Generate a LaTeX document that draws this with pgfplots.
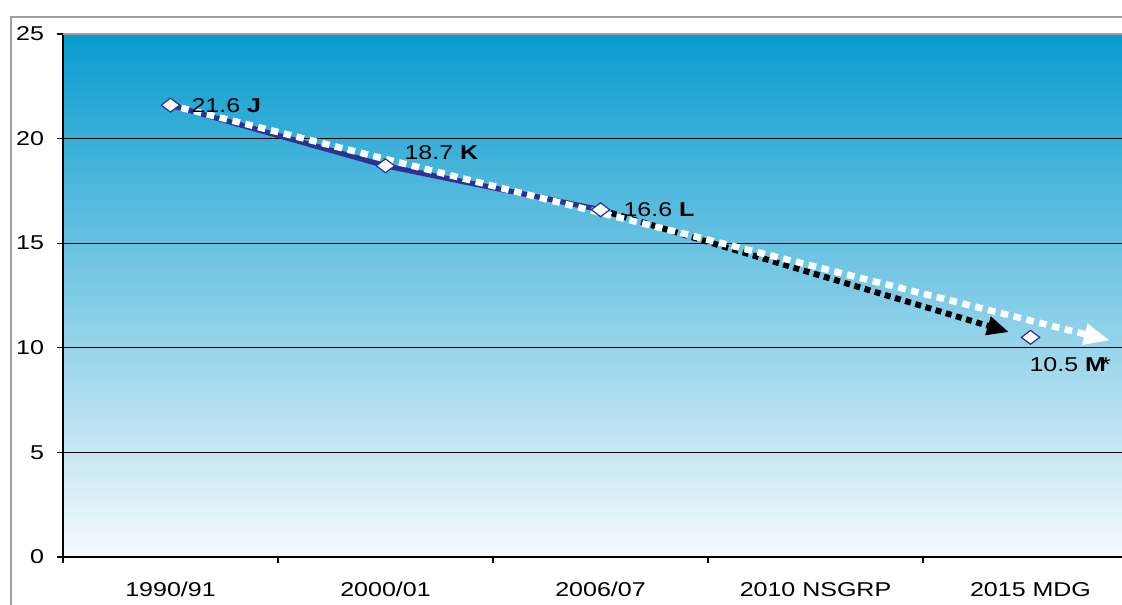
\documentclass[border=0pt]{standalone}
\usepackage{pgfplots}
\pgfplotsset{compat=1.18}
\usepackage{fontspec}
\setmainfont{Liberation Sans}[FakeStretch=1.25]
\usetikzlibrary{arrows.meta}
\definecolor{navy}{RGB}{46,49,146}
\definecolor{frameg}{RGB}{160,160,164}
\definecolor{skytop}{RGB}{8,156,207}
\definecolor{skymid}{RGB}{128,185,219}
\definecolor{skybot}{RGB}{247,250,253}

\begin{document}
\begin{tikzpicture}[font=\fontsize{10}{12}\selectfont]
\useasboundingbox (0,0) rectangle (561pt,302pt);
\clip (0,0) rectangle (561pt,302pt);
% outer chart frame
\draw[frameg, line width=1.3pt] (5.5pt,293.5pt) rectangle (620pt,-20pt);
\begin{axis}[
  at={(31.5pt,23.5pt)}, anchor=south west,
  scale only axis, width=537.5pt, height=261.5pt,
  xmin=-0.5, xmax=4.5, ymin=0, ymax=25,
  axis background/.style={shade, top color=skytop, middle color=skymid, bottom color=skybot},
  axis line style={draw=none},
  xtick={0,1,2,3,4},
  xticklabels={1990/91,2000/01,2006/07,2010 NSGRP,2015 MDG},
  minor xtick={-0.5,0.5,1.5,2.5,3.5,4.5},
  major x tick style={draw=none},
  xtick pos=bottom, ytick pos=left,
  tick align=outside,
  major tick length=3pt, minor tick length=3pt,
  tick style={black, line width=0.6pt},
  ytick={0,5,...,25},
  ymajorgrids, grid style={black, line width=0.6pt},
  yticklabel style={xshift=-3pt},
  xticklabel style={yshift=-6pt},
  /pgf/number format/assume math mode=true,
  clip=false,
]
% observed trend
\addplot[navy, line width=2.6pt, mark=none] coordinates {(0,21.6) (1,18.7) (2,16.6)};
% projection from 2006/07
\addplot[black, line width=3pt, dash pattern=on 3pt off 2.3pt,
  -{Triangle[length=11pt,width=9pt]}] coordinates {(2,16.6) (3.9,10.75)};
% long-run trend
\addplot[white, line width=3.3pt, dash pattern=on 3.8pt off 2.8pt,
  -{Triangle[length=13pt,width=10pt]}] coordinates {(0.05,21.47) (4.37,10.35)};
% data points
\addplot[only marks, mark=diamond*, mark size=4.6pt,
  mark options={rotate=90, fill=white, draw=navy, line width=0.6pt}]
  coordinates {(0,21.6) (1,18.7) (2,16.6) (4,10.5)};
% value labels
\node[anchor=west, xshift=7pt] at (axis cs:0,21.6) {21.6 \textbf{J}};
\node[anchor=west, xshift=6pt, yshift=6.5pt] at (axis cs:1,18.7) {18.7 \textbf{K}};
\node[anchor=west, xshift=8pt] at (axis cs:2,16.6) {16.6 \textbf{L}};
\node[anchor=west, xshift=-4pt, yshift=-13.5pt] at (axis cs:4,10.5) {10.5 \textbf{M}\kern-2.5pt{*}};
% plot-area borders
\draw[black, line width=0.7pt] (rel axis cs:0,1) -- (rel axis cs:0,0) -- (rel axis cs:1,0);
\draw[frameg, line width=1pt] (rel axis cs:0,1) -- (rel axis cs:1,1);
\end{axis}
\end{tikzpicture}
\end{document}
